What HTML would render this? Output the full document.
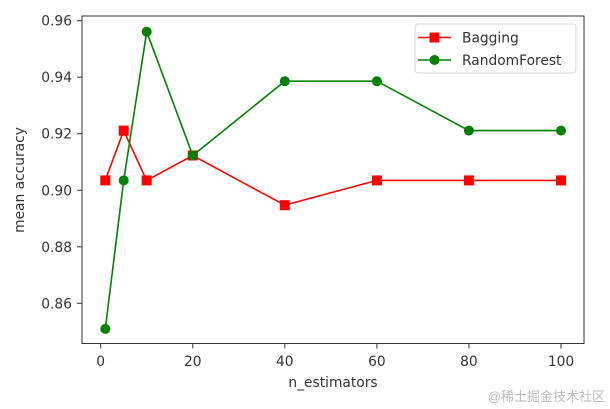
<!DOCTYPE html>
<html><head><meta charset="utf-8"><style>
html,body{margin:0;padding:0;background:#fff;}
svg{display:block;}
text{font-family:"DejaVu Sans","Liberation Sans",sans-serif;fill:#333;}
</style></head><body>
<svg width="610" height="409" viewBox="0 0 610 409" xmlns="http://www.w3.org/2000/svg">
<rect width="610" height="409" fill="#fff"/>
<!-- series lines -->
<polyline fill="none" stroke="#ff0000" stroke-width="1.6" points="105.3,180.4 123.7,130.6 146.7,180.4 192.8,155.5 284.8,205.2 376.9,180.4 468.9,180.4 561,180.4"/>
<g fill="#ff0000">
<rect x="100.3" y="175.4" width="10" height="10"/>
<rect x="118.7" y="125.6" width="10" height="10"/>
<rect x="141.7" y="175.4" width="10" height="10"/>
<rect x="187.8" y="150.5" width="10" height="10"/>
<rect x="279.8" y="200.2" width="10" height="10"/>
<rect x="371.9" y="175.4" width="10" height="10"/>
<rect x="463.9" y="175.4" width="10" height="10"/>
<rect x="556" y="175.4" width="10" height="10"/>
</g>
<polyline fill="none" stroke="#008000" stroke-width="1.6" points="105.3,328.9 123.7,180.4 146.7,31.7 192.8,155.5 284.8,81.2 376.9,81.2 468.9,130.6 561,130.6"/>
<g fill="#008000">
<circle cx="105.3" cy="328.9" r="5"/>
<circle cx="123.7" cy="180.4" r="5"/>
<circle cx="146.7" cy="31.7" r="5"/>
<circle cx="192.8" cy="155.5" r="5"/>
<circle cx="284.8" cy="81.2" r="5"/>
<circle cx="376.9" cy="81.2" r="5"/>
<circle cx="468.9" cy="130.6" r="5"/>
<circle cx="561" cy="130.6" r="5"/>
</g>
<!-- axes frame -->
<rect x="82" y="16" width="502" height="327.5" fill="none" stroke="#333" stroke-width="1"/>
<!-- y ticks -->
<g stroke="#333" stroke-width="1">
<line x1="77" y1="20.7" x2="82" y2="20.7"/>
<line x1="77" y1="77.2" x2="82" y2="77.2"/>
<line x1="77" y1="133.7" x2="82" y2="133.7"/>
<line x1="77" y1="190.3" x2="82" y2="190.3"/>
<line x1="77" y1="246.8" x2="82" y2="246.8"/>
<line x1="77" y1="303.3" x2="82" y2="303.3"/>
<line x1="100.7" y1="343.5" x2="100.7" y2="348.5"/>
<line x1="192.8" y1="343.5" x2="192.8" y2="348.5"/>
<line x1="284.8" y1="343.5" x2="284.8" y2="348.5"/>
<line x1="376.9" y1="343.5" x2="376.9" y2="348.5"/>
<line x1="468.9" y1="343.5" x2="468.9" y2="348.5"/>
<line x1="561" y1="343.5" x2="561" y2="348.5"/>
</g>
<g font-size="13.8" text-anchor="end">
<text x="72" y="25.7">0.96</text>
<text x="72" y="82.2">0.94</text>
<text x="72" y="138.7">0.92</text>
<text x="72" y="195.3">0.90</text>
<text x="72" y="251.8">0.88</text>
<text x="72" y="308.3">0.86</text>
</g>
<g font-size="13.8" text-anchor="middle">
<text x="100.7" y="366">0</text>
<text x="192.8" y="366">20</text>
<text x="284.8" y="366">40</text>
<text x="376.9" y="366">60</text>
<text x="468.9" y="366">80</text>
<text x="561" y="366">100</text>
<text x="333" y="387">n_estimators</text>
</g>
<text font-size="13.8" text-anchor="middle" transform="translate(24,180) rotate(-90)">mean accuracy</text>
<!-- legend -->
<rect x="415" y="24" width="161" height="49" rx="3" fill="#fff" fill-opacity="0.8" stroke="#d6d6d6" stroke-width="1"/>
<line x1="418" y1="37.5" x2="451" y2="37.5" stroke="#ff0000" stroke-width="1.6"/>
<rect x="429.5" y="32.5" width="10" height="10" fill="#ff0000"/>
<line x1="418" y1="60" x2="451" y2="60" stroke="#008000" stroke-width="1.6"/>
<circle cx="434.5" cy="60" r="5" fill="#008000"/>
<text x="462" y="42.5" font-size="13.8">Bagging</text>
<text x="462" y="65" font-size="13.8">RandomForest</text>
<!-- watermark -->
<text x="605" y="401" font-size="13" text-anchor="end" style="fill:#bbb;font-family:'Liberation Sans','Noto Sans CJK SC',sans-serif">@稀土掘金技术社区</text>
</svg>
</body></html>
